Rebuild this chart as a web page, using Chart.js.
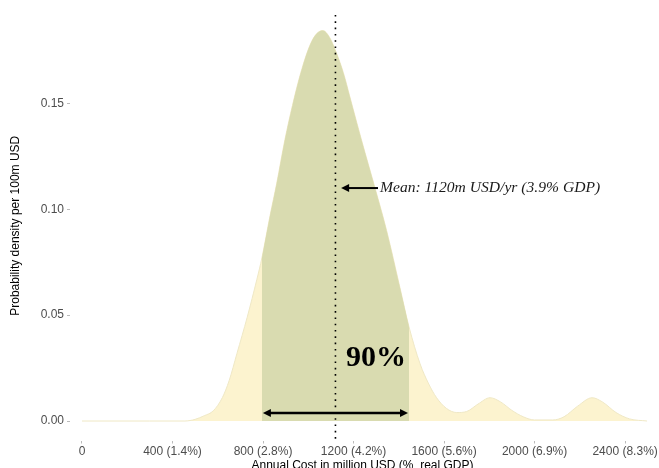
<!DOCTYPE html>
<html>
<head>
<meta charset="utf-8">
<script src="https://cdn.jsdelivr.net/npm/chart.js@4.4.0/dist/chart.umd.min.js"></script>
<style>
  body { margin: 0; background: #fff; }
  canvas { display: block; }
</style>
</head>
<body>
<canvas id="costDensityChart" width="659" height="468"></canvas>
<script>
// annual cost (million USD) and density per 100m USD
var costValues = [0, 300, 455, 500, 540, 580, 620, 650, 685, 730, 773, 795, 831, 860, 897, 930, 963, 1000, 1030, 1064,
    1095, 1125, 1155, 1184, 1214, 1250, 1295, 1346, 1405, 1445, 1494, 1530, 1567, 1610, 1656, 1700, 1750, 1803, 1850, 1900,
    1950, 2000, 2080, 2130, 2190, 2254, 2300, 2360, 2420, 2497];
var densityValues = [0, 0, 0, 0.0008, 0.0025, 0.0048, 0.011, 0.019, 0.032, 0.049, 0.067, 0.077, 0.097, 0.112, 0.133, 0.149, 0.163, 0.1755, 0.182, 0.1844,
    0.181, 0.1736, 0.1645, 0.153, 0.141, 0.127, 0.110, 0.090, 0.063, 0.0445, 0.027, 0.018, 0.011, 0.006, 0.004, 0.0045, 0.008, 0.011, 0.009, 0.005,
    0.002, 0.0005, 0.0005, 0.002, 0.007, 0.011, 0.009, 0.004, 0.001, 0];

var xTickValues = [0, 400, 800, 1200, 1600, 2000, 2400];
var xTickLabels = ['0', '400 (1.4%)', '800 (2.8%)', '1200 (4.2%)', '1600 (5.6%)', '2000 (6.9%)', '2400 (8.3%)'];
var yTickValues = [0, 0.05, 0.10, 0.15];
var yTickLabels = ['0.00', '0.05', '0.10', '0.15'];

// 90% interval and mean
var intervalLow = 795;
var intervalHigh = 1445;
var meanCost = 1120;
var meanLabel = 'Mean: 1120m USD/yr (3.9% GDP)';
var intervalLabel = '90%';

document.addEventListener('DOMContentLoaded', function() {
    var fullCurve = costValues.map(function(c, i) {
        return { x: c, y: densityValues[i] };
    });
    var intervalCurve = fullCurve.filter(function(p) {
        return p.x >= intervalLow && p.x <= intervalHigh;
    });

    function arrowHead(ctx, x, y, dir) {
        ctx.beginPath();
        ctx.moveTo(x, y);
        ctx.lineTo(x - dir * 8, y - 4);
        ctx.lineTo(x - dir * 8, y + 4);
        ctx.closePath();
        ctx.fill();
    }

    var annotations = {
        id: 'annotations',
        afterDatasetsDraw: function(chart) {
            var ctx = chart.ctx;
            var xs = chart.scales.x;
            var ys = chart.scales.y;
            var area = chart.chartArea;
            ctx.save();

            // dotted mean line
            var mx = xs.getPixelForValue(meanCost);
            ctx.strokeStyle = '#000';
            ctx.lineWidth = 1.6;
            ctx.setLineDash([1.6, 4.7]);
            ctx.beginPath();
            ctx.moveTo(mx, area.top + 4);
            ctx.lineTo(mx, area.bottom);
            ctx.stroke();
            ctx.setLineDash([]);

            // double arrow under the 90% band
            ctx.fillStyle = '#000';
            var ay = ys.getPixelForValue(0.0038);
            var ax1 = xs.getPixelForValue(intervalLow) + 1;
            var ax2 = xs.getPixelForValue(intervalHigh) - 1;
            ctx.lineWidth = 2.5;
            ctx.beginPath();
            ctx.moveTo(ax1 + 5, ay);
            ctx.lineTo(ax2 - 5, ay);
            ctx.stroke();
            arrowHead(ctx, ax1, ay, -1);
            arrowHead(ctx, ax2, ay, 1);

            // mean arrow
            var my = ys.getPixelForValue(0.110);
            var mx1 = xs.getPixelForValue(1145);
            var mx2 = xs.getPixelForValue(1308);
            ctx.lineWidth = 2;
            ctx.beginPath();
            ctx.moveTo(mx1 + 5, my);
            ctx.lineTo(mx2, my);
            ctx.stroke();
            arrowHead(ctx, mx1, my, -1);

            ctx.fillStyle = '#1a1a1a';
            ctx.font = 'italic 15.6px "Liberation Serif", "Times New Roman", serif';
            ctx.textBaseline = 'middle';
            ctx.textAlign = 'left';
            ctx.fillText(meanLabel, mx2 + 2, my);

            ctx.fillStyle = '#000';
            ctx.font = 'bold 30px "Liberation Serif", "Times New Roman", serif';
            ctx.fillText(intervalLabel, xs.getPixelForValue(1167), ys.getPixelForValue(0.0295));
            ctx.restore();
        }
    };

    var ctx = document.getElementById('costDensityChart').getContext('2d');
    new Chart(ctx, {
        type: 'line',
        data: {
            datasets: [{
                data: intervalCurve,
                backgroundColor: '#d9dbb0',
                borderWidth: 0,
                pointRadius: 0,
                fill: 'origin',
                cubicInterpolationMode: 'monotone'
            }, {
                data: fullCurve,
                backgroundColor: '#fcf3cf',
                borderColor: '#efe8c6',
                borderWidth: 1,
                pointRadius: 0,
                fill: 'origin',
                cubicInterpolationMode: 'monotone'
            }]
        },
        options: {
            responsive: false,
            animation: false,
            layout: {
                padding: { top: 11, right: 4, left: 0, bottom: 0 }
            },
            plugins: {
                legend: { display: false },
                tooltip: { enabled: false }
            },
            scales: {
                x: {
                    type: 'linear',
                    min: -53,
                    max: 2532,
                    afterFit: function(scale) { scale.height = 27.5; },
                    afterBuildTicks: function(scale) {
                        scale.ticks = xTickValues.map(function(v) { return { value: v }; });
                    },
                    grid: {
                        drawOnChartArea: false,
                        drawTicks: true,
                        tickLength: 3,
                        color: '#bbbbbb'
                    },
                    border: { display: false },
                    ticks: {
                        padding: 1,
                        maxRotation: 0,
                        autoSkip: false,
                        color: '#4d4d4d',
                        font: { size: 12, family: "'Liberation Sans', Arial, sans-serif" },
                        callback: function(value, index) { return xTickLabels[index]; }
                    },
                    title: {
                        display: true,
                        text: 'Annual Cost in million USD (%  real GDP)',
                        color: '#000',
                        padding: { top: 0, bottom: -5 },
                        font: { size: 12, family: "'Liberation Sans', Arial, sans-serif" }
                    }
                },
                y: {
                    min: -0.0092,
                    max: 0.1936,
                    afterFit: function(scale) { scale.width = 70; },
                    afterBuildTicks: function(scale) {
                        scale.ticks = yTickValues.map(function(v) { return { value: v }; });
                    },
                    grid: {
                        drawOnChartArea: false,
                        drawTicks: true,
                        tickLength: 3,
                        color: '#bbbbbb'
                    },
                    border: { display: false },
                    ticks: {
                        padding: 3,
                        color: '#4d4d4d',
                        font: { size: 12, family: "'Liberation Sans', Arial, sans-serif" },
                        callback: function(value, index) { return yTickLabels[index]; }
                    },
                    title: {
                        display: true,
                        text: 'Probability density per 100m USD',
                        color: '#000',
                        padding: { top: 8, bottom: 0 },
                        font: { size: 12, family: "'Liberation Sans', Arial, sans-serif" }
                    }
                }
            }
        },
        plugins: [annotations]
    });
});
</script>
</body>
</html>
